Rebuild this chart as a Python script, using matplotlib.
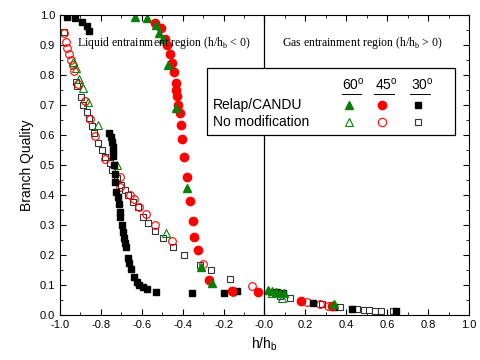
import numpy as np
import matplotlib.pyplot as plt

# Relap/CANDU (filled markers)
relap60_x = [-0.633, -0.576, -0.531, -0.514, -0.498, -0.470, -0.433, -0.380, -0.310, -0.255,
             0.019, 0.038, 0.056, 0.076, 0.097, 0.341]
relap60_y = [0.994, 0.989, 0.967, 0.941, 0.919, 0.833, 0.689, 0.422, 0.159, 0.108,
             0.083, 0.080, 0.076, 0.072, 0.072, 0.037]

relap45_x = [-0.535, -0.508, -0.487, -0.475, -0.462, -0.454, -0.443, -0.434, -0.433, -0.429,
             -0.424, -0.413, -0.408, -0.402, -0.392, -0.380, -0.364, -0.351, -0.343, -0.324,
             -0.271, -0.160, -0.030, 0.178, 0.330]
relap45_y = [0.974, 0.956, 0.919, 0.900, 0.872, 0.842, 0.811, 0.774, 0.750, 0.731,
             0.700, 0.672, 0.633, 0.586, 0.528, 0.459, 0.381, 0.314, 0.261, 0.217,
             0.117, 0.080, 0.078, 0.047, 0.030]

relap30_x = [-0.967, -0.927, -0.894, -0.869, -0.857,
             -0.759, -0.752, -0.745, -0.742, -0.739, -0.739, -0.735, -0.733,
             -0.731, -0.726, -0.718, -0.711, -0.707, -0.707, -0.698, -0.693, -0.687, -0.681,
             -0.677, -0.669, -0.661, -0.653, -0.637, -0.625, -0.612, -0.596, -0.576, -0.531,
             -0.356, -0.197, -0.153, -0.136, 0.060, 0.090, 0.239, 0.341, 0.426, 0.642]
relap30_y = [0.994, 0.992, 0.978, 0.963, 0.948,
             0.606, 0.594, 0.578, 0.561, 0.544, 0.530, 0.500, 0.470,
             0.444, 0.411, 0.394, 0.369, 0.344, 0.326, 0.300, 0.278, 0.256, 0.239,
             0.226, 0.189, 0.172, 0.154, 0.126, 0.111, 0.100, 0.092, 0.086, 0.078,
             0.074, 0.074, 0.080, 0.080, 0.078, 0.075, 0.041, 0.026, 0.021, 0.012]

# No modification (open markers)
nomod60_x = [-0.935, -0.922, -0.906, -0.889, -0.862, -0.816, -0.720, -0.482, 0.035, 0.084]
nomod60_y = [0.844, 0.822, 0.787, 0.756, 0.711, 0.633, 0.500, 0.274, 0.072, 0.058]

nomod45_x = [-0.980, -0.971, -0.964, -0.954, -0.948, -0.938, -0.930, -0.910, -0.880, -0.855,
             -0.829, -0.780, -0.707, -0.707, -0.658, -0.637, -0.612, -0.579, -0.535, -0.454,
             -0.299, -0.156, -0.063, 0.206, 0.271, 0.312]
nomod45_y = [0.941, 0.911, 0.891, 0.870, 0.852, 0.833, 0.813, 0.770, 0.715, 0.655,
             0.597, 0.520, 0.461, 0.428, 0.400, 0.386, 0.361, 0.337, 0.300, 0.247,
             0.169, 0.078, 0.097, 0.044, 0.037, 0.030]

nomod30_x = [-0.980, -0.922, -0.918, -0.899, -0.886, -0.870, -0.860, -0.845, -0.834, -0.813,
             -0.796, -0.780, -0.756, -0.747, -0.720, -0.702, -0.682, -0.666, -0.645, -0.620,
             -0.593, -0.568, -0.535, -0.495, -0.449, -0.392, -0.315, -0.263, -0.169,
             0.076, 0.125, 0.280, 0.369, 0.426, 0.454, 0.487, 0.513, 0.540, 0.570, 0.627]
nomod30_y = [0.944, 0.778, 0.763, 0.728, 0.700, 0.678, 0.656, 0.630, 0.606, 0.572,
             0.550, 0.528, 0.506, 0.483, 0.456, 0.433, 0.417, 0.400, 0.376, 0.359,
             0.328, 0.308, 0.281, 0.256, 0.228, 0.200, 0.167, 0.150, 0.119,
             0.063, 0.056, 0.037, 0.028, 0.021, 0.019, 0.017, 0.017, 0.013, 0.013, 0.012]

green = '#0a800a'
red = '#ff0000'

plt.rcParams['font.family'] = ['Liberation Sans', 'DejaVu Sans']
fig = plt.figure(figsize=(4.8, 3.6), dpi=100)
ax = fig.add_axes([0.125, 0.125, 0.852, 0.833])

ms = 5
ax.plot(nomod30_x, nomod30_y, 's', ms=ms, mfc='white', mec='#333333', mew=0.8, ls='none')
ax.plot(nomod45_x, nomod45_y, 'o', ms=ms + 0.5, mfc='none', mec=red, mew=0.8, ls='none')
ax.plot(nomod60_x, nomod60_y, '^', ms=ms + 0.5, mfc='none', mec=green, mew=0.8, ls='none')
ax.plot(relap30_x, relap30_y, 's', ms=ms, color='black', ls='none')
ax.plot(relap45_x, relap45_y, 'o', ms=ms + 1, color=red, ls='none')
ax.plot(relap60_x, relap60_y, '^', ms=ms + 1, color=green, ls='none')

ax.axvline(0, color='black', lw=0.9)

ax.set_xlim(-1.0, 1.0)
ax.set_ylim(0.0, 1.0)
ax.set_xticks(np.arange(-1.0, 1.01, 0.2))
ax.set_xticks(np.arange(-1.0, 1.01, 0.1), minor=True)
ax.set_yticks(np.arange(0.0, 1.01, 0.1))
ax.set_yticks(np.arange(0.0, 1.01, 0.05), minor=True)
ax.tick_params(which='both', direction='in', top=True, right=True, labelsize=8)
ax.tick_params(which='major', length=4)
ax.tick_params(which='minor', length=2)
ax.set_xticklabels(['%.1f' % v for v in np.arange(-1.0, 1.01, 0.2)])
ax.set_yticklabels(['%.1f' % v for v in np.arange(0.0, 1.01, 0.1)])
ax.set_xlabel('h/h$_\\mathregular{b}$', fontsize=10)
ax.set_ylabel('Branch Quality', fontsize=10)

serif = ['Liberation Serif', 'DejaVu Serif']
ax.text(0.042, 0.906, 'Liquid entrainment region (h/h$_\\mathregular{b}$ < 0)',
        transform=ax.transAxes, family=serif, fontsize=8.5, va='center')
ax.text(0.542, 0.906, 'Gas entrainment region (h/h$_\\mathregular{b}$ > 0)',
        transform=ax.transAxes, family=serif, fontsize=8.5, va='center')

# custom legend box
box = plt.Rectangle((0.359, 0.60), 0.607, 0.222, transform=ax.transAxes,
                    facecolor='white', edgecolor='black', lw=0.9, zorder=5)
ax.add_patch(box)
cols = [0.717, 0.797, 0.885]
for cx, lab in zip(cols, ['60$^\\mathregular{o}$', '45$^\\mathregular{o}$', '30$^\\mathregular{o}$']):
    ax.text(cx, 0.767, lab, transform=ax.transAxes, fontsize=10, ha='center',
            va='center', zorder=6)
    ax.plot([cx - 0.028, cx + 0.02], [0.738, 0.738], color='black', lw=0.7,
            transform=ax.transAxes, zorder=6)
ax.text(0.375, 0.70, 'Relap/CANDU', transform=ax.transAxes, fontsize=10, va='center', zorder=6)
ax.text(0.375, 0.643, 'No modification', transform=ax.transAxes, fontsize=10, va='center', zorder=6)
ax.plot(cols[0] - 0.01, 0.70, '^', ms=6, color=green, transform=ax.transAxes, zorder=6)
ax.plot(cols[1] - 0.01, 0.70, 'o', ms=6, color=red, transform=ax.transAxes, zorder=6)
ax.plot(cols[2] - 0.01, 0.70, 's', ms=5, color='black', transform=ax.transAxes, zorder=6)
ax.plot(cols[0] - 0.01, 0.643, '^', ms=6, mfc='none', mec=green, mew=0.8, transform=ax.transAxes, zorder=6)
ax.plot(cols[1] - 0.01, 0.643, 'o', ms=6, mfc='none', mec=red, mew=0.8, transform=ax.transAxes, zorder=6)
ax.plot(cols[2] - 0.01, 0.643, 's', ms=5, mfc='white', mec='#333333', mew=0.8, transform=ax.transAxes, zorder=6)

fig.savefig('out.png', dpi=100)
